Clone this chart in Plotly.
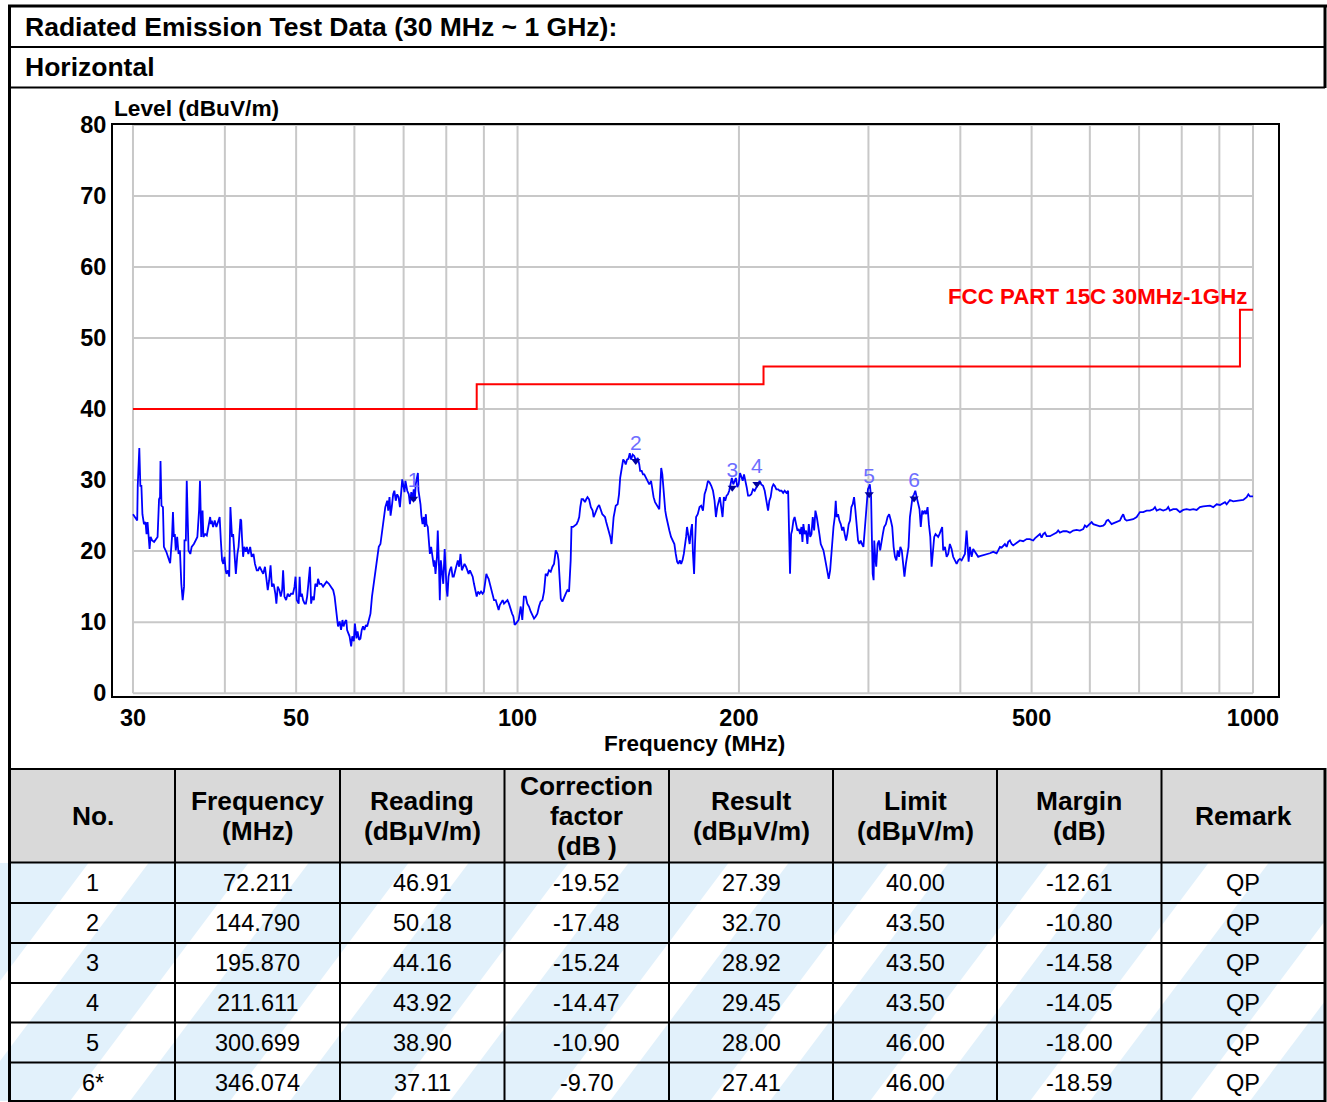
import plotly.graph_objects as go

# ---------------- data ----------------
scan_30_57 = [(30.0,25.2),(30.25,24.5),(30.4,24.3),(30.45,29.2),(30.6,34.5),(30.7,29.2),(30.8,29.2),(30.9,25.2),(31.05,23.8),(31.2,24.1),(31.3,22.4),(31.4,24.1),(31.5,22.0),(31.6,20.3),(31.7,22.0),(31.85,21.5),(32.05,21.3),(32.2,21.6),(32.4,22.0),(32.55,27.3),(32.65,27.6),(32.7,32.7),(32.8,26.4),(32.95,26.2),(33.05,20.6),(33.3,19.9),(33.5,19.2),(33.7,18.3),(33.9,22.0),(34.0,25.5),(34.1,22.0),(34.2,22.4),(34.3,20.1),(34.45,22.0),(34.6,19.6),(34.75,20.1),(34.9,15.4),(35.05,13.1),(35.2,15.0),(35.25,21.5),(35.4,21.5),(35.5,29.9),(35.6,24.8),(35.7,20.1),(35.9,19.6),(36.05,20.6),(36.3,21.0),(36.5,21.5),(36.7,22.0),(36.9,25.9),(37.0,29.9),(37.15,22.0),(37.3,25.7),(37.4,22.0),(37.6,22.4),(37.8,22.2),(37.95,23.4),(38.2,24.8),(38.3,23.8),(38.4,24.3),(38.55,23.4),(38.75,24.3),(38.95,23.4),(39.15,24.3),(39.35,24.8),(39.5,21.5),(39.65,18.7),(39.8,18.2),(39.95,19.2),(40.1,17.3),(40.2,16.8),(40.4,17.3),(40.55,16.4),(40.7,26.2),(40.9,22.0),(41.05,22.4),(41.2,19.2),(41.4,16.8),(41.6,19.6),(41.75,20.6),(42.0,24.5),(42.1,24.3),(42.2,22.0),(42.35,19.2),(42.5,20.6),(42.7,19.9),(42.85,20.6),(43.05,19.6),(43.3,20.6),(43.5,19.2),(43.75,19.6),(43.95,18.2),(44.2,17.3),(44.4,17.3),(44.6,17.8),(44.85,17.3),(45.1,16.8),(45.35,17.8),(45.6,15.9),(45.75,14.5),(45.95,15.9),(46.15,18.0),(46.35,15.0),(46.6,15.4),(46.85,14.0),(47.0,12.6),(47.2,15.0),(47.45,14.5),(47.65,13.6),(47.85,14.5),(48.0,17.3),(48.2,13.6),(48.45,13.1),(48.7,14.0),(48.95,13.6),(49.2,14.0),(49.5,14.0),(49.75,15.0),(49.9,16.4),(50.1,13.1),(50.4,12.6),(50.55,16.4),(50.7,13.6),(50.9,14.0),(51.1,13.1),(51.35,12.6),(51.55,12.6),(51.75,13.6),(51.95,15.4),(52.2,17.8),(52.4,12.6),(52.6,13.6),(52.85,13.1),(53.1,15.4),(53.4,15.0),(53.55,16.1),(53.8,15.4),(54.1,15.4),(54.4,15.0),(54.6,15.2),(55.0,15.7),(55.4,15.4),(55.8,15.0),(56.15,14.5),(56.4,13.6)]

scan_57_100 = [(56.7,11.7),(57.0,9.4),(57.3,10.1),(57.55,8.9),(57.8,10.3),(58.0,9.4),(58.3,10.1),(58.5,10.3),(58.65,8.9),(58.9,8.4),(59.1,8.0),(59.4,6.6),(59.6,8.0),(59.9,7.3),(60.1,9.8),(60.4,7.7),(60.6,8.7),(60.9,7.5),(61.15,7.7),(61.4,8.9),(61.65,9.4),(61.9,8.9),(62.2,9.6),(62.45,9.4),(62.76,10.3),(63.1,11.2),(63.4,13.6),(63.75,15.4),(64.1,17.8),(64.4,19.2),(64.76,20.6),(65.1,21.0),(65.45,23.1),(65.8,24.8),(66.1,26.2),(66.5,27.1),(66.7,25.7),(66.97,27.6),(67.2,25.0),(67.45,26.2),(67.75,28.0),(68.0,28.5),(68.3,27.1),(68.6,28.0),(68.9,27.6),(69.2,26.2),(69.5,28.5),(69.7,30.1),(69.9,29.4),(70.2,28.3),(70.4,29.9),(70.8,28.5),(71.15,28.0),(71.4,26.6),(71.7,28.3),(71.98,27.1),(72.25,28.7),(72.5,27.1),(72.7,29.4),(72.95,30.3),(73.2,31.0),(73.34,28.5),(73.57,27.6),(73.8,26.6),(74.0,25.0),(74.27,23.8),(74.57,24.8),(74.8,23.4),(75.05,25.2),(75.2,23.8),(75.5,23.4),(75.75,21.0),(76.0,19.6),(76.3,20.6),(76.6,19.2),(76.95,17.8),(77.1,18.7),(77.35,16.8),(77.7,19.2),(77.9,22.9),(78.2,17.8),(78.4,13.1),(78.65,18.7),(79.0,16.8),(79.25,15.4),(79.6,20.3),(79.8,17.3),(80.1,14.5),(80.3,13.6),(80.57,16.4),(80.9,17.3),(81.25,17.8),(81.6,16.4),(81.9,16.4),(82.3,17.3),(82.6,17.8),(82.95,18.7),(83.3,17.8),(83.65,19.6),(84.0,17.3),(84.4,17.8),(84.7,18.2),(85.1,17.8),(85.45,17.3),(85.8,16.8),(86.15,17.3),(86.5,16.8),(86.9,16.4),(87.25,15.4),(87.6,14.5),(88.0,13.6),(88.35,14.3),(88.8,14.0),(89.2,14.3),(89.65,14.0),(90.0,14.3),(90.4,15.4),(90.7,16.8),(91.0,16.4),(91.34,16.1),(91.7,15.4),(92.1,14.5),(92.5,13.6),(92.9,13.1),(93.4,13.1),(93.9,12.2),(94.25,11.7),(94.6,12.4),(95.05,12.9),(95.45,13.1),(95.85,12.6),(96.35,12.9),(96.9,13.1),(97.35,12.6),(97.9,11.7),(98.3,11.2),(98.7,10.8),(99.1,9.6),(99.5,9.8),(99.95,10.1),(100.35,10.3)]

scan_100_178 = [(101.0,12.2),(101.5,10.3),(102.0,13.6),(102.6,13.6),(103.1,12.6),(103.65,12.2),(104.2,11.5),(104.75,11.0),(105.3,10.5),(105.85,10.8),(106.4,11.2),(106.95,12.2),(107.5,12.9),(108.1,13.1),(108.65,14.3),(109.2,16.8),(109.8,16.6),(110.35,17.3),(110.95,17.1),(111.55,17.8),(112.1,18.2),(112.7,20.1),(113.35,19.6),(113.7,18.7),(114.05,16.8),(114.5,13.3),(115.1,12.9),(115.7,13.6),(116.3,14.0),(116.9,14.5),(117.5,14.3),(118.1,18.7),(118.4,23.4),(119.0,23.4),(119.7,23.6),(120.3,23.8),(120.9,24.3),(121.3,24.8),(121.7,26.2),(122.2,27.3),(122.8,27.3),(123.5,26.9),(124.0,27.3),(124.5,27.6),(125.1,27.3),(125.8,26.2),(126.5,25.7),(126.9,24.8),(127.4,25.2),(127.9,25.7),(128.5,26.2),(129.1,26.5),(129.8,25.7),(130.4,25.2),(130.95,25.0),(131.5,24.8),(132.0,24.1),(132.6,23.4),(133.1,22.9),(133.7,22.0),(134.2,21.0),(134.6,22.9),(135.1,24.8),(135.5,25.5),(136.0,26.4),(136.8,26.6),(137.4,28.0),(137.9,30.3),(138.6,31.8),(139.2,32.9),(139.7,32.7),(140.3,32.2),(140.9,32.9),(141.5,33.0),(142.1,33.8),(142.7,32.9),(143.4,33.6),(144.1,33.4),(144.9,32.7),(145.7,33.1),(146.4,32.2),(146.8,31.3),(147.5,31.3),(148.1,30.8),(148.7,30.8),(149.5,30.3),(150.3,29.9),(151.05,29.4),(151.9,29.9),(152.7,28.3),(153.1,27.6),(153.8,26.9),(154.4,26.6),(155.1,26.2),(155.85,25.9),(156.35,29.0),(156.8,31.7),(157.35,30.8),(157.8,29.0),(158.3,28.0),(158.8,25.7),(159.35,24.8),(160.0,23.8),(160.85,22.9),(161.7,22.0),(162.55,21.5),(163.4,21.0),(164.1,19.6),(164.8,18.5),(165.45,18.2),(166.2,18.7),(166.9,18.2),(167.6,18.7),(168.3,19.6),(168.9,20.6),(169.5,22.0),(170.0,23.4),(170.7,22.4),(171.4,21.0),(172.1,22.9),(172.7,23.8),(173.2,19.6),(173.8,16.8),(174.3,21.0),(174.9,24.8),(175.8,25.2),(176.8,26.2),(177.7,26.4)]

scan_178_378 = [(178.7,25.7),(179.6,28.0),(180.5,28.7),(181.5,29.9),(182.4,29.7),(183.4,29.2),(184.4,28.5),(185.3,27.1),(186.1,24.8),(186.9,26.2),(187.6,27.1),(188.4,27.6),(189.2,26.2),(190.0,24.8),(190.8,27.6),(191.6,27.1),(192.4,27.8),(193.2,28.0),(194.0,28.5),(194.8,29.2),(195.6,30.3),(196.5,29.4),(197.3,29.9),(198.1,30.3),(199.0,29.0),(199.8,29.4),(200.7,31.0),(201.5,30.6),(202.4,29.9),(203.2,30.8),(204.0,30.1),(204.9,29.0),(205.8,27.8),(206.8,27.8),(207.9,28.0),(209.0,28.7),(210.1,28.5),(211.2,29.0),(212.3,29.4),(213.4,29.9),(214.5,29.4),(215.7,29.2),(216.8,28.5),(217.9,27.1),(219.1,25.7),(220.0,27.1),(220.9,27.6),(221.9,29.0),(222.8,29.4),(223.7,29.2),(224.9,28.7),(226.1,28.7),(227.2,28.5),(228.5,28.5),(229.7,28.2),(230.8,28.5),(232.0,28.2),(233.3,28.5),(234.0,22.9),(234.7,16.8),(235.5,22.4),(236.2,22.9),(237.2,24.3),(238.1,24.8),(239.2,23.8),(240.2,22.9),(241.2,23.1),(242.2,22.4),(243.2,23.4),(244.0,21.3),(244.7,23.8),(245.7,22.4),(246.8,22.9),(247.8,21.0),(248.9,23.8),(250.0,22.0),(251.0,22.4),(252.0,24.8),(253.1,22.9),(254.1,25.7),(255.2,24.8),(256.3,23.8),(257.3,22.4),(258.4,21.0),(259.5,20.6),(260.6,20.1),(261.6,19.2),(262.8,18.2),(263.9,16.8),(264.9,16.1),(266.1,17.3),(266.9,19.2),(267.8,20.6),(268.9,23.4),(270.0,24.8),(270.8,27.1),(271.6,24.8),(272.8,25.2),(273.9,24.3),(275.1,23.8),(276.3,22.9),(277.4,23.4),(278.5,22.4),(279.7,21.5),(280.8,22.4),(282.0,23.8),(283.2,24.3),(284.4,26.2),(285.6,26.6),(286.8,27.6),(288.0,25.7),(289.2,23.4),(290.4,21.5),(291.6,21.0),(292.8,21.5),(294.0,21.0),(295.3,20.6),(296.5,22.9),(297.7,25.2),(298.6,28.0),(299.5,28.7),(300.4,29.0),(301.3,29.4),(301.9,28.5),(302.5,27.6),(303.1,22.9),(304.0,16.8),(304.9,15.9),(305.5,21.5),(306.4,19.2),(307.4,17.8),(308.7,21.0),(310.0,21.5),(311.2,20.1),(312.5,21.0),(313.8,22.4),(315.1,23.4),(316.8,23.8),(318.5,24.8),(320.1,25.2),(321.8,24.3),(323.2,23.4),(324.6,20.6),(326.0,19.2),(327.4,18.7),(328.8,20.1),(330.2,19.2),(331.5,20.6),(333.0,20.1),(334.4,18.2),(335.8,16.4),(337.3,18.2),(338.7,19.6),(340.1,20.6),(341.6,24.8),(343.0,26.2),(344.4,27.6),(346.0,28.0),(347.4,28.5),(348.9,27.6),(350.4,26.9),(352.0,25.9),(353.4,23.4),(355.0,25.7),(356.4,25.2),(357.9,25.7),(359.4,25.2),(361.0,26.2),(362.5,23.8),(364.1,22.0),(365.6,17.8),(367.1,20.6),(368.6,22.0),(370.1,22.4),(371.7,22.2),(373.2,22.0),(374.7,22.4),(376.3,22.9),(377.9,23.4)]

scan_378_1000 = [(379.1,20.1),(381.2,20.6),(383.2,19.2),(385.1,19.6),(387.1,21.0),(389.2,20.3),(391.1,19.2),(393.3,18.7),(395.4,18.2),(397.4,18.7),(399.5,18.9),(401.6,18.7),(403.6,19.2),(405.8,19.6),(407.9,22.9),(409.2,20.1),(410.5,18.5),(412.2,20.6),(414.4,19.2),(416.4,20.3),(418.7,19.9),(420.9,19.6),(423.0,19.2),(425.3,19.3),(429.7,19.4),(434.3,19.6),(438.8,19.7),(443.4,19.9),(448.1,19.7),(450.4,20.1),(452.8,20.6),(455.2,20.5),(457.5,20.8),(459.9,21.0),(462.4,20.6),(464.7,21.3),(467.2,21.5),(469.7,21.0),(472.0,20.8),(474.5,21.0),(477.1,21.1),(482.0,21.5),(487.0,21.4),(492.3,21.7),(497.3,21.7),(502.5,21.5),(505.2,21.8),(507.9,22.0),(510.4,22.2),(513.2,22.4),(515.9,21.9),(518.5,22.4),(521.3,22.6),(524.1,22.1),(529.5,22.1),(535.0,22.4),(540.7,22.6),(543.4,22.9),(546.3,22.6),(552.0,22.8),(557.9,22.8),(563.7,22.6),(569.5,22.9),(575.7,23.0),(581.6,22.9),(587.7,23.1),(590.8,23.6),(594.0,23.4),(600.1,23.8),(603.4,24.1),(606.4,23.8),(612.9,23.6),(619.2,23.5),(625.7,23.6),(629.0,23.8),(632.3,24.3),(635.5,24.4),(638.9,24.1),(642.3,23.8),(645.5,23.9),(652.4,24.1),(659.2,24.3),(662.7,24.8),(666.1,25.2),(669.6,24.5),(673.2,24.3),(680.2,24.4),(687.3,24.5),(694.7,24.8),(698.2,25.2),(701.9,25.5),(709.2,25.5),(716.8,25.7),(724.2,25.7),(731.7,25.9),(735.7,26.2),(739.6,25.7),(747.2,25.9),(755.0,25.7),(763.1,25.9),(766.9,26.2),(771.0,25.7),(779.0,25.9),(787.3,25.9),(795.5,25.5),(803.8,25.8),(812.4,25.9),(820.8,25.8),(829.4,25.9),(838.2,25.8),(846.9,26.2),(855.8,26.3),(864.9,26.4),(874.0,26.4),(883.0,26.2),(892.5,26.6),(901.8,26.5),(911.1,26.7),(916.0,26.9),(920.8,26.6),(930.4,27.2),(940.0,27.0),(950.2,27.1),(960.0,27.2),(970.0,27.2),(980.4,27.6),(985.5,28.0),(990.6,27.7),(1000.0,27.7)]

limit_freq = [30, 88, 88, 216, 216, 960, 960, 1000]
limit_level = [40, 40, 43.5, 43.5, 46, 46, 54, 54]
limit_name = "FCC PART 15C 30MHz-1GHz"

marker_no = ["1", "2", "3", "4", "5", "6"]
marker_freq = [72.211, 144.790, 195.870, 211.611, 300.699, 346.074]
marker_level = [27.39, 32.70, 28.92, 29.45, 28.00, 27.41]

x_tick_vals = [30, 50, 100, 200, 500, 1000]
x_grid_vals = [30, 40, 50, 60, 70, 80, 90, 100, 200, 300, 400, 500, 600, 700, 800, 900, 1000]
y_tick_vals = [0, 10, 20, 30, 40, 50, 60, 70, 80]

title_text = "Radiated Emission Test Data (30 MHz ~ 1 GHz):"
polarization = "Horizontal"
x_title = "Frequency (MHz)"
y_title = "Level (dBuV/m)"

header_lines = [["No."], ["Frequency", "(MHz)"], ["Reading", "(dBμV/m)"],
                ["Correction", "factor", "(dB )"], ["Result", "(dBμV/m)"],
                ["Limit", "(dBμV/m)"], ["Margin", "(dB)"], ["Remark"]]
table_no = ["1", "2", "3", "4", "5", "6*"]
table_freq = ["72.211", "144.790", "195.870", "211.611", "300.699", "346.074"]
table_reading = ["46.91", "50.18", "44.16", "43.92", "38.90", "37.11"]
table_corr = ["-19.52", "-17.48", "-15.24", "-14.47", "-10.90", "-9.70"]
table_result = ["27.39", "32.70", "28.92", "29.45", "28.00", "27.41"]
table_limit = ["40.00", "43.50", "43.50", "43.50", "46.00", "46.00"]
table_margin = ["-12.61", "-10.80", "-14.58", "-14.05", "-18.00", "-18.59"]
table_remark = ["QP", "QP", "QP", "QP", "QP", "QP"]

# ---------------- layout geometry ----------------
W, H = 1327, 1102
PL, PR, PT, PB = 113, 1278, 125, 696          # plot area in pixels
FONT = "Liberation Sans, Arial, sans-serif"


def px(x):
    return (x - PL) / (PR - PL)


def py(y):
    return (PB - y) / (PB - PT)


scan = scan_30_57 + scan_57_100 + scan_100_178 + scan_178_378 + scan_378_1000
scan_freq = [p[0] for p in scan]
scan_level = [p[1] for p in scan]

fig = go.Figure()

fig.add_trace(go.Scatter(x=limit_freq, y=limit_level, mode="lines",
                         line=dict(color="#ff0000", width=2), hoverinfo="skip"))
fig.add_trace(go.Scatter(x=scan_freq, y=scan_level, mode="lines",
                         line=dict(color="#0000ff", width=1.8)))
fig.add_trace(go.Scatter(x=marker_freq, y=marker_level, mode="markers+text",
                         text=marker_no, textposition="top center",
                         textfont=dict(family=FONT, size=21, color="#6e6eff"),
                         marker=dict(symbol="triangle-down", size=8, color="#0000a0")))

shapes = []

# faint watermark bands behind the table body
TB0, TB1 = 863, 1101
slant = 0.75 * (TB1 - TB0)
for a in range(-350, 1330, 160):
    x0b, x1b = max(a, -100), a + 100
    path = (f"M {px(a)},{py(TB1)} L {px(a + 100)},{py(TB1)} "
            f"L {px(a + 100 + slant)},{py(TB0)} L {px(a + slant)},{py(TB0)} Z")
    shapes.append(dict(type="path", xref="paper", yref="paper", path=path,
                       fillcolor="#e2f1fb", line=dict(width=0), layer="below"))
# white cover outside the table on the right
shapes.append(dict(type="rect", xref="paper", yref="paper", x0=px(1326), x1=px(1400),
                   y0=py(862), y1=py(1102), fillcolor="white", line=dict(width=0),
                   layer="below"))

# grid inside 30..1000 MHz / 0..80 dB
for g in x_grid_vals:
    shapes.append(dict(type="line", xref="x", yref="y", x0=g, x1=g, y0=0, y1=80,
                       line=dict(color="#c8c8c8", width=2), layer="below"))
for g in y_tick_vals:
    shapes.append(dict(type="line", xref="x", yref="y", x0=30, x1=1000, y0=g, y1=g,
                       line=dict(color="#c8c8c8", width=2), layer="below"))


def hline(y, x0, x1, w=2):
    shapes.append(dict(type="line", xref="paper", yref="paper", x0=px(x0), x1=px(x1),
                       y0=py(y), y1=py(y), line=dict(color="black", width=w)))


def vline(x, y0, y1, w=2):
    shapes.append(dict(type="line", xref="paper", yref="paper", x0=px(x), x1=px(x),
                       y0=py(y0), y1=py(y1), line=dict(color="black", width=w)))


# table header fill
shapes.append(dict(type="rect", xref="paper", yref="paper", x0=px(10), x1=px(1325),
                   y0=py(770), y1=py(862), fillcolor="#d9d9d9", line=dict(width=0),
                   layer="below"))

# frame of the page / table
hline(6, 8, 1327, 3)
vline(9.5, 5, 1102, 3)
vline(1325, 5, 88, 3)
vline(1325, 768, 1102, 3)
hline(47, 10, 1325, 2)
hline(87.5, 10, 1325, 2)
hline(769, 10, 1325, 2)
hline(862.5, 10, 1325, 2)
row_lines = [903, 943, 983, 1022.5, 1062.5, 1101]
for r in row_lines:
    hline(r, 10, 1325, 2)
col_lines = [175, 340, 504.5, 669, 833, 997, 1161.5]
for c in col_lines:
    vline(c, 769, 1102, 2)

ann = []


def text(x, y, s, size, bold=False, color="black", xanchor="center", yanchor="middle"):
    ann.append(dict(xref="paper", yref="paper", x=px(x), y=py(y), text=(f"<b>{s}</b>" if bold else s),
                    showarrow=False, xanchor=xanchor, yanchor=yanchor,
                    font=dict(family=FONT, size=size, color=color)))


text(23, 27, title_text, 26.5, bold=True, xanchor="left")
text(23, 67, polarization, 26.5, bold=True, xanchor="left")
text(112, 108, y_title, 22.7, bold=True, xanchor="left")
text(694, 743, x_title, 22.5, bold=True)
text(1249, 296, limit_name, 22.3, bold=True, color="#ff0000", xanchor="right")

col_centers = [92.5, 257.5, 422, 586.5, 751, 915, 1079, 1243]
for cx, lines in zip(col_centers, header_lines):
    n = len(lines)
    for i, s in enumerate(lines):
        yy = 816 + (i - (n - 1) / 2) * 30
        text(cx, yy, s, 26.3, bold=True)

row_centers = [883, 923, 963, 1003, 1043, 1083]
columns = [table_no, table_freq, table_reading, table_corr, table_result,
           table_limit, table_margin, table_remark]
for cx, col in zip(col_centers, columns):
    for ry, s in zip(row_centers, col):
        text(cx, ry, s, 23.5)

fig.update_layout(
    width=W, height=H, autosize=False,
    margin=dict(l=PL, r=W - PR, t=PT, b=H - PB, pad=0),
    paper_bgcolor="white", plot_bgcolor="white",
    showlegend=False,
    shapes=shapes, annotations=ann,
    font=dict(family=FONT, color="black"),
)
fig.update_xaxes(type="log", range=[1.44995, 3.03399], showgrid=False, zeroline=False,
                 tickvals=x_tick_vals, ticktext=[f"<b>{v}</b>" for v in x_tick_vals],
                 tickfont=dict(family=FONT, size=23.5, color="black"),
                 ticks="", showline=True, mirror=True, linecolor="black", linewidth=2)
fig.update_yaxes(range=[-0.4, 80], showgrid=False, zeroline=False,
                 tickvals=y_tick_vals, ticktext=[f"<b>{v}</b>" for v in y_tick_vals],
                 tickfont=dict(family=FONT, size=23.5, color="black"),
                 ticks="", showline=True, mirror=True, linecolor="black", linewidth=2)

fig.write_html("out.html", config={"displayModeBar": False},
               post_script="document.body.style.margin='0px';")
